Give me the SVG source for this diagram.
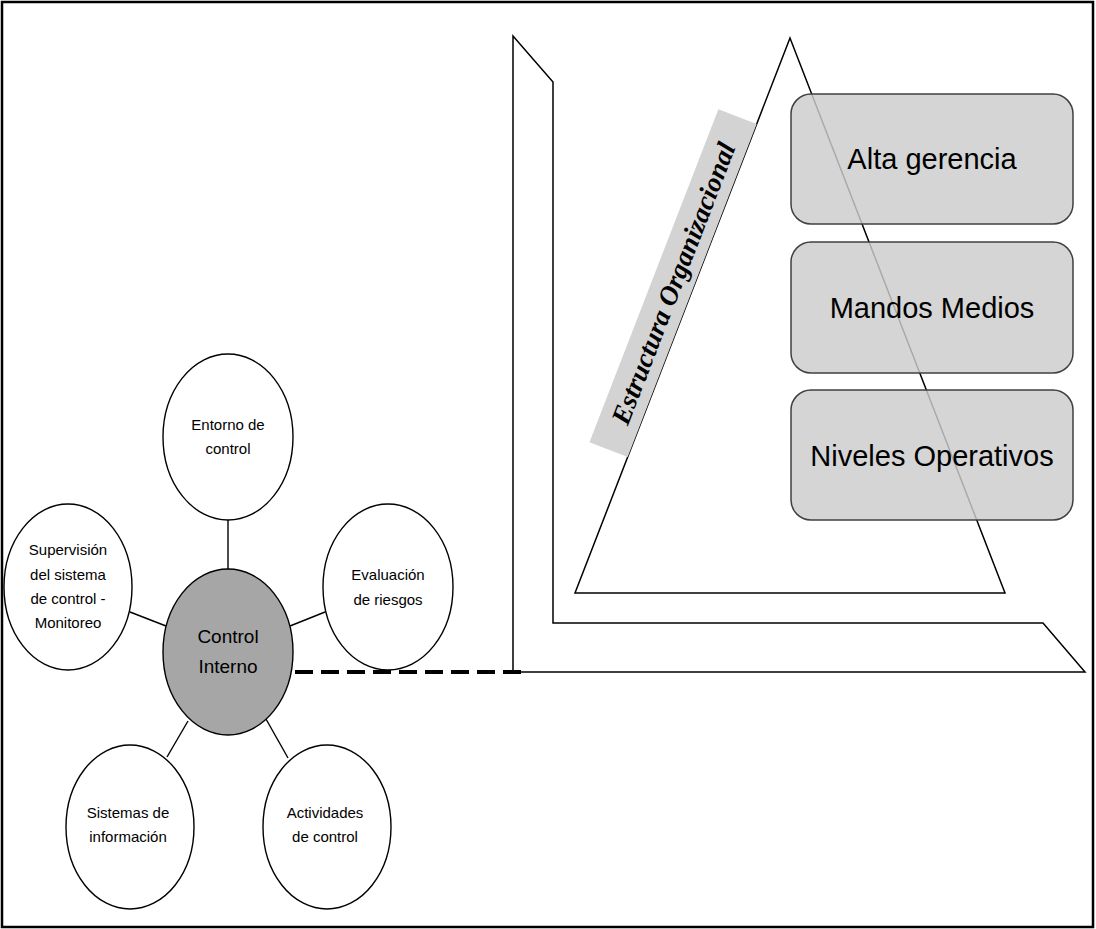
<svg xmlns="http://www.w3.org/2000/svg" width="1096" height="929" viewBox="0 0 1096 929">
  <style>
    .comp { fill: #ffffff; stroke: #000000; stroke-width: 1.4; }
    .core { fill: #a6a6a6; stroke: #000000; stroke-width: 1.4; }
    .link { stroke: #000000; stroke-width: 1.4; fill: none; }
    .small { font-family: "Liberation Sans", Arial, sans-serif; font-size: 15px; fill: #000000; text-anchor: middle; }
    .mid { font-family: "Liberation Sans", Arial, sans-serif; font-size: 19px; fill: #000000; text-anchor: middle; }
    .level { fill: #cccccc; fill-opacity: 0.83; stroke: #404040; stroke-width: 1.5; }
    .big { font-family: "Liberation Sans", Arial, sans-serif; font-size: 29px; fill: #000000; text-anchor: middle; }
    .shape { fill: none; stroke: #000000; stroke-width: 1.5; }
  </style>

  <!-- frame -->
  <rect x="2" y="2" width="1091" height="925" fill="#ffffff" stroke="#000000" stroke-width="2.5"/>

  <!-- organisational structure: L-shaped base and pyramid -->
  <g id="base">
    <polygon class="shape" points="513,36 553,82 553,623 1043,623 1085,672 513,672"/>
  </g>
  <g id="pyramid">
    <polygon class="shape" stroke-width="1.3" points="790,38 575,593 1005,593"/>
  </g>

  <g id="band">
    <g transform="translate(627.7,457) rotate(-68.83)">
      <rect x="0" y="-41" width="357" height="41" fill="#d3d3d3"/>
      <text x="178.5" y="-11" font-family="'Liberation Serif', 'Times New Roman', serif" font-size="27" font-weight="bold" font-style="italic" text-anchor="middle" fill="#000000">Estructura Organizacional</text>
    </g>
  </g>

  <g id="alta-gerencia">
    <rect class="level" x="791" y="94" width="282" height="130" rx="20" ry="20"/>
    <text class="big" x="932" y="169">Alta gerencia</text>
  </g>
  <g id="mandos-medios">
    <rect class="level" x="791" y="242" width="282" height="131" rx="20" ry="20"/>
    <text class="big" x="932" y="318">Mandos Medios</text>
  </g>
  <g id="niveles-operativos">
    <rect class="level" x="791" y="390" width="282" height="130" rx="20" ry="20"/>
    <text class="big" x="932" y="466">Niveles Operativos</text>
  </g>

  <!-- connectors -->
  <g id="connectors">
    <line class="link" x1="228" y1="520" x2="228" y2="570"/>
    <line class="link" x1="130" y1="612" x2="166" y2="626"/>
    <line class="link" x1="290" y1="626" x2="325" y2="612"/>
    <line class="link" x1="188" y1="721" x2="167" y2="757"/>
    <line class="link" x1="266" y1="719" x2="288" y2="758"/>
    <line x1="295" y1="672" x2="528" y2="672" stroke="#000000" stroke-width="4" stroke-dasharray="18,8"/>
    <circle cx="283" cy="672" r="1.8" fill="#000000"/>
  </g>

  <!-- internal control components -->
  <g id="entorno">
    <ellipse class="comp" cx="228" cy="437" rx="65" ry="83"/>
    <text class="small" x="228" y="430">Entorno de</text>
    <text class="small" x="228" y="454">control</text>
  </g>
  <g id="supervision">
    <ellipse class="comp" cx="68" cy="587" rx="64" ry="83"/>
    <text class="small" x="68" y="555">Supervisión</text>
    <text class="small" x="68" y="580">del sistema</text>
    <text class="small" x="68" y="604">de control -</text>
    <text class="small" x="68" y="628">Monitoreo</text>
  </g>
  <g id="evaluacion">
    <ellipse class="comp" cx="388" cy="587" rx="65" ry="83"/>
    <text class="small" x="388" y="580">Evaluación</text>
    <text class="small" x="388" y="605">de riesgos</text>
  </g>
  <g id="control-interno">
    <ellipse class="core" cx="228" cy="652" rx="65" ry="83"/>
    <text class="mid" x="228" y="643">Control</text>
    <text class="mid" x="228" y="673">Interno</text>
  </g>
  <g id="sistemas">
    <ellipse class="comp" cx="130" cy="827" rx="64" ry="82"/>
    <text class="small" x="128" y="818">Sistemas de</text>
    <text class="small" x="128" y="842">información</text>
  </g>
  <g id="actividades">
    <ellipse class="comp" cx="327" cy="827" rx="64" ry="82"/>
    <text class="small" x="325" y="818">Actividades</text>
    <text class="small" x="325" y="842">de control</text>
  </g>
</svg>
